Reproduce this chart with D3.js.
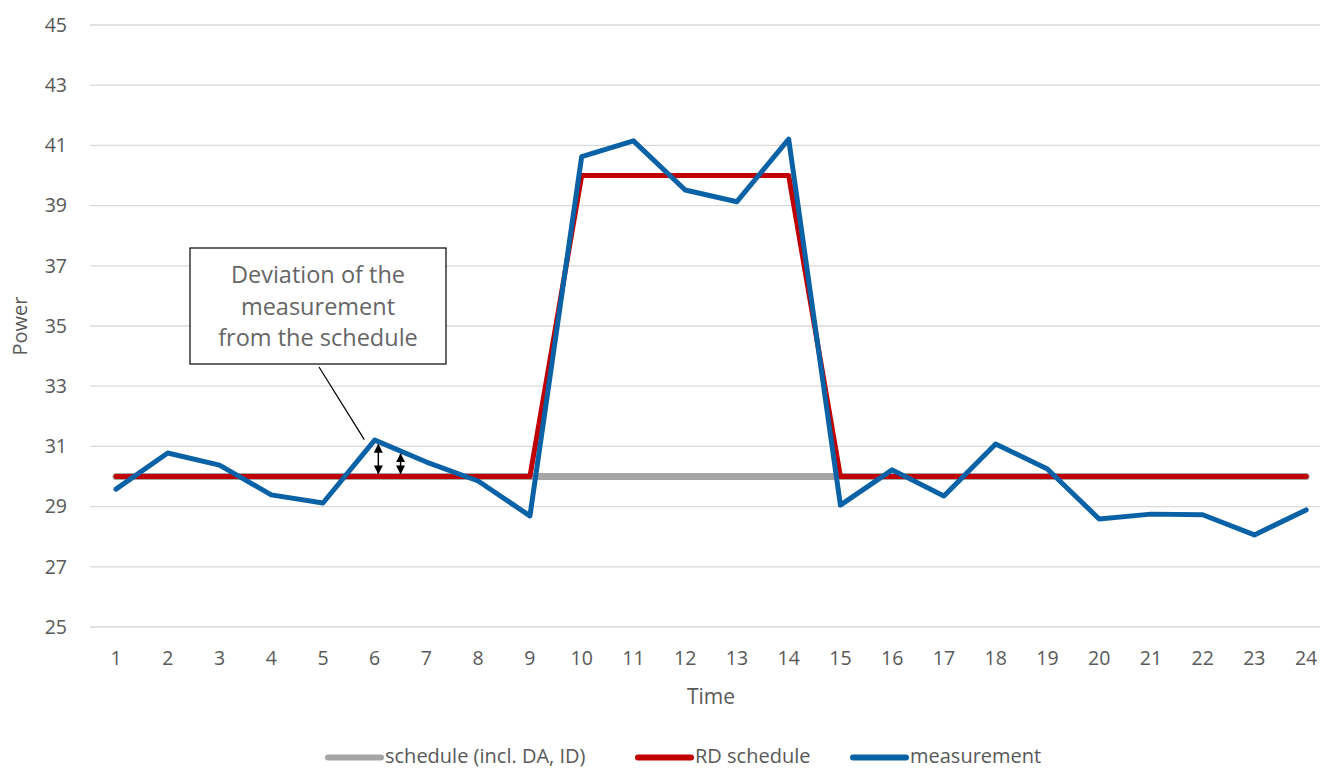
<!DOCTYPE html>
<html>
<head>
<meta charset="utf-8">
<script src="https://cdn.jsdelivr.net/npm/d3@7"></script>
<style>
  html, body { margin: 0; padding: 0; background: #fff; }
  svg { display: block; font-family: "Open Sans", sans-serif; }
</style>
</head>
<body>
<svg id="chart" width="1320" height="769"></svg>
<script>
// Hourly time steps
const hours = d3.range(1, 25);
// Day-ahead / intraday schedule
const schedule = [30,30,30,30,30,30,30,30,30,30,30,30,30,30,30,30,30,30,30,30,30,30,30,30];
// Redispatch schedule
const rdSchedule = [30,30,30,30,30,30,30,30,30,40,40,40,40,40,30,30,30,30,30,30,30,30,30,30];
// Metered power
const measurement = [29.58,30.78,30.38,29.39,29.12,31.21,30.48,29.85,28.69,40.63,41.15,39.52,39.13,41.21,
                     29.05,30.22,29.35,31.08,30.25,28.59,28.75,28.73,28.06,28.89];
const yTicks = [25,27,29,31,33,35,37,39,41,43,45];
const seriesNames = ["schedule (incl. DA, ID)", "RD schedule", "measurement"];
const seriesColors = ["#A5A5A5", "#C00000", "#0A62A6"];
const noteLines = ["Deviation of the", "measurement", "from the schedule"];
// Deviation markers: hour positions
const deviationMarks = [6.07, 6.5];

const svg = d3.select("#chart");
const textColor = "#595959";
const font = "'Open Sans', sans-serif";

const x = d3.scaleBand().domain(hours).range([90.1, 1332]).padding(0);
const xc = h => x(h) + x.bandwidth() / 2;
const y = d3.scaleLinear().domain([25, 45]).range([627, 25]);

// Gridlines
svg.append("g").selectAll("line").data(yTicks).join("line")
  .attr("x1", 90).attr("x2", 1332)
  .attr("y1", d => y(d)).attr("y2", d => y(d))
  .attr("stroke", "#D9D9D9").attr("stroke-width", 1.3);

// Y axis labels
const yAxis = d3.axisLeft(y).tickValues(yTicks).tickSize(0).tickPadding(0);
svg.append("g").attr("transform", "translate(67,0)").call(yAxis)
  .call(g => g.select(".domain").remove())
  .call(g => g.selectAll("text").attr("fill", textColor)
    .style("font-size", "19.5px").style("font-family", font));

// X axis labels
const xAxis = d3.axisBottom(x).tickSize(0).tickPadding(0);
svg.append("g").attr("transform", "translate(0,651)").call(xAxis)
  .call(g => g.select(".domain").remove())
  .call(g => g.selectAll("text").attr("fill", textColor)
    .style("font-size", "19.5px").style("font-family", font));

// Axis titles
svg.append("text").attr("x", 711).attr("y", 704).attr("text-anchor", "middle")
  .attr("fill", textColor).style("font-size", "21px").text("Time");
svg.append("text").attr("transform", "translate(27,326) rotate(-90)")
  .attr("text-anchor", "middle").attr("fill", textColor)
  .style("font-size", "20px").text("Power");

// Series lines
const line = d3.line().x((d, i) => xc(hours[i])).y(d => y(d));
const widths = [7, 5, 5];
[schedule, rdSchedule, measurement].forEach((s, i) => {
  svg.append("path").datum(s).attr("d", line)
    .attr("fill", "none").attr("stroke", seriesColors[i])
    .attr("stroke-width", widths[i]).attr("stroke-linejoin", "round")
    .attr("stroke-linecap", "round");
});

// Deviation arrows between schedule and measurement
const defs = svg.append("defs");
defs.append("marker").attr("id", "ah").attr("viewBox", "0 0 10 10")
  .attr("refX", 9).attr("refY", 5).attr("markerWidth", 9).attr("markerHeight", 9)
  .attr("orient", "auto-start-reverse").attr("markerUnits", "userSpaceOnUse")
  .append("path").attr("d", "M0,0 L10,5 L0,10 z").attr("fill", "#000");

const measAt = h => {
  const i = Math.floor(h) - 1, t = h - Math.floor(h);
  return measurement[i] + (measurement[i + 1] - measurement[i]) * t;
};
const xAt = h => xc(1) + (h - 1) * x.bandwidth();
deviationMarks.forEach(h => {
  svg.append("line")
    .attr("x1", xAt(h)).attr("x2", xAt(h))
    .attr("y1", y(rdSchedule[Math.floor(h) - 1]) - 3)
    .attr("y2", y(measAt(h)) + 3)
    .attr("stroke", "#000").attr("stroke-width", 1.5)
    .attr("marker-start", "url(#ah)").attr("marker-end", "url(#ah)");
});

// Callout box with leader line
svg.append("line").attr("x1", 319).attr("y1", 367)
  .attr("x2", xAt(deviationMarks[0]) - 14).attr("y2", y(measAt(deviationMarks[0])) - 2)
  .attr("stroke", "#000").attr("stroke-width", 1.2);
svg.append("rect").attr("x", 190).attr("y", 248).attr("width", 256).attr("height", 116)
  .attr("fill", "#fff").attr("stroke", "#000").attr("stroke-width", 1.2);
svg.append("text").attr("text-anchor", "middle").attr("fill", "#666")
  .style("font-size", "23.5px")
  .selectAll("tspan").data(noteLines).join("tspan")
  .attr("x", 318).attr("y", (d, i) => 283 + i * 31.5).text(d => d);

// Legend
const legendX = [325, 635, 850];
const lg = svg.append("g");
seriesNames.forEach((n, i) => {
  lg.append("line").attr("x1", legendX[i] + 3).attr("x2", legendX[i] + 56)
    .attr("y1", 757.5).attr("y2", 757.5).attr("stroke", seriesColors[i])
    .attr("stroke-width", 6).attr("stroke-linecap", "round");
  lg.append("text").attr("x", legendX[i] + 60).attr("y", 763)
    .attr("fill", textColor).style("font-size", "20px").text(n);
});
</script>
</body>
</html>
